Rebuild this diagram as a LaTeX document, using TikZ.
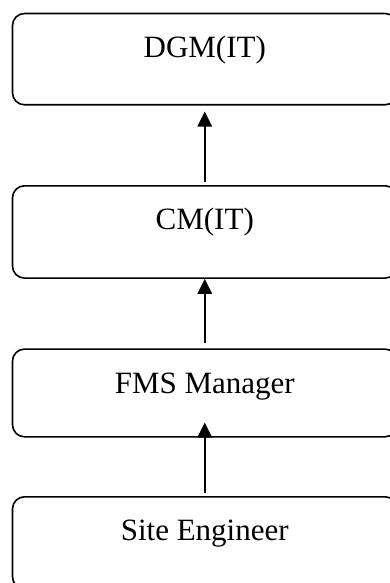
\documentclass[tikz,border=0pt]{standalone}
\usepackage{fontspec}
\setmainfont{Liberation Serif}
\usetikzlibrary{arrows.meta}
\begin{document}
\begin{tikzpicture}[x=1pt,y=1pt,
  box/.style={draw=black, line width=1.6pt, rounded corners=12pt, inner sep=0pt,
    minimum width=384.5pt, text height=44pt, anchor=north,
    font=\fontsize{31}{36}\selectfont},
  arr/.style={line width=1.5pt, -{Triangle[length=15pt,width=14.5pt]}}]
\useasboundingbox (0,0) rectangle (390,-583);
\node[box, text depth=47.3pt] (b1) at (204.75,-12.7) {DGM(IT)};
\node[box, text depth=48.3pt] (b2) at (204.75,-185) {CM(IT)};
\node[box, text depth=43.7pt] (b3) at (204.75,-348.3) {FMS Manager};
\node[box, text depth=48pt] (b4) at (204.75,-496) {Site Engineer};
\draw[arr, shorten <=3pt, shorten >=6pt] (b2.north) -- (b1.south);
\draw[arr, shorten <=5pt] (b3.north) -- (b2.south);
\draw[arr, shorten <=3pt, shorten >=-15pt] (b4.north) -- (b3.south);
\end{tikzpicture}
\end{document}
